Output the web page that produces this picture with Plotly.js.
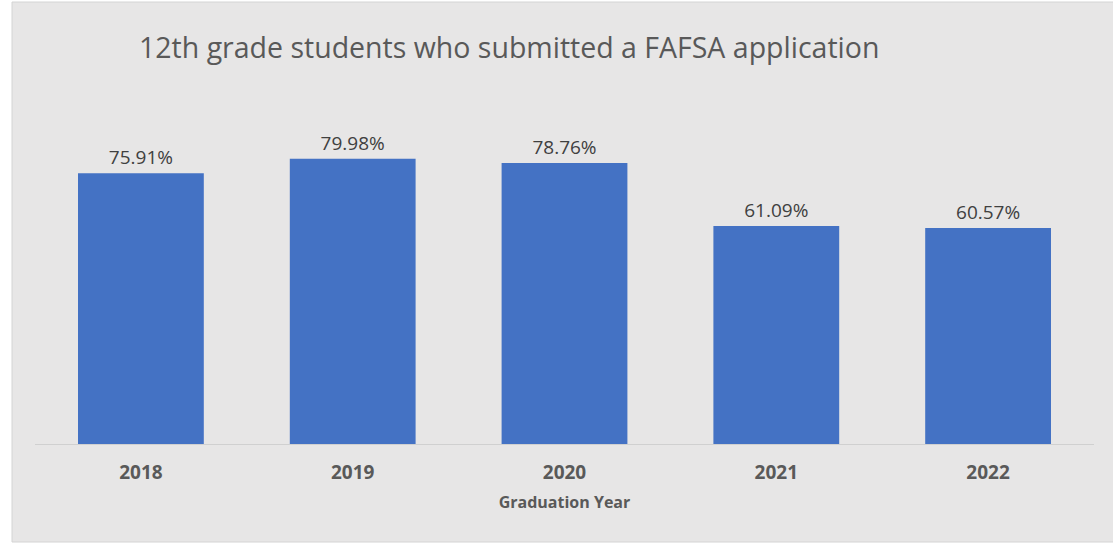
<!DOCTYPE html>
<html>
<head>
<meta charset="utf-8">
<script src="https://cdn.plot.ly/plotly-3.0.1.min.js"></script>
<style>html,body{margin:0;padding:0;background:#fff;}#chart{width:1113px;height:544px;}</style>
</head>
<body>
<div id="chart"></div>
<script>
const years = ["2018", "2019", "2020", "2021", "2022"];
const pctSubmitted = [75.91, 79.98, 78.76, 61.09, 60.57];
const labels = pctSubmitted.map(v => v.toFixed(2) + "%");

const W = 1113, H = 544;
const L = 35, R = 19, T = 123, B = 100;
const pw = W - L - R, ph = H - T - B;
const px = x => (x - L) / pw;
const py = y => (H - B - y) / ph;

const trace = {
  type: "bar",
  x: years,
  y: pctSubmitted,
  text: labels,
  textposition: "outside",
  cliponaxis: false,
  textfont: {family: "Open Sans, sans-serif", size: 19, color: "#404040"},
  marker: {color: "#4472c4"},
  hoverinfo: "skip"
};

const layout = {
  width: W, height: H,
  margin: {l: L, r: R, t: T, b: B, pad: 0},
  paper_bgcolor: "#ffffff",
  plot_bgcolor: "rgba(0,0,0,0)",
  bargap: 0.406,
  showlegend: false,
  title: {
    text: "12th grade students who submitted a FAFSA application",
    font: {family: "Open Sans, sans-serif", size: 28.5, color: "#595959"},
    x: px(139), xanchor: "left", xref: "paper",
    y: 1 - 48 / H, yanchor: "middle", yref: "container"
  },
  xaxis: {
    type: "category",
    showline: true, linecolor: "#d0d0d0", linewidth: 1,
    ticks: "", showgrid: false,
    tickfont: {family: "Open Sans, sans-serif", size: 19, color: "#595959", weight: "bold"},
    ticklabelstandoff: 11,
    title: {
      text: "Graduation Year",
      font: {family: "Open Sans, sans-serif", size: 16, color: "#595959", weight: "bold"},
      standoff: 13
    }
  },
  yaxis: {
    range: [0, 90],
    visible: false,
    showgrid: false, zeroline: false
  },
  shapes: [{
    type: "rect", layer: "below",
    xref: "paper", yref: "paper",
    x0: px(12), x1: px(1118), y0: py(542), y1: py(2),
    fillcolor: "#e7e6e6",
    line: {color: "#d4d4d4", width: 1}
  }]
};

Plotly.newPlot("chart", [trace], layout, {staticPlot: true, displayModeBar: false});
</script>
</body>
</html>
